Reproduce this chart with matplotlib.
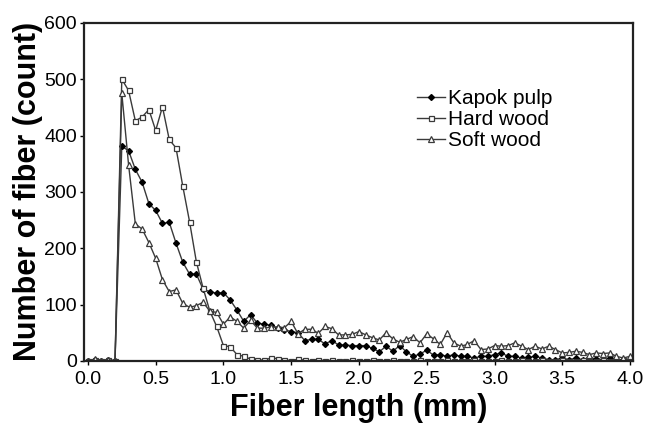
import numpy as np
import matplotlib
matplotlib.use("Agg")
import matplotlib.pyplot as plt

plt.rcParams["font.family"] = ["Liberation Sans", "DejaVu Sans"]

# fiber length bins (mm), 0.05 mm step
length = np.round(np.arange(0, 81) * 0.05, 2)

kapok = [0, 2, 0, 1, 0,
         381, 373, 340, 317, 279, 267, 244, 246, 209, 175,
         154, 154, 127, 123, 120, 121, 108, 90, 70, 82,
         67, 65, 63, 58, 55, 52, 50, 36, 38, 38,
         30, 36, 28, 28, 27, 27, 27, 22, 16, 26,
         17, 27, 16, 8, 12, 19, 10, 11, 8, 11,
         8, 8, 5, 8, 8, 11, 14, 8, 8, 5,
         6, 8, 5, 2, 2, 5, 2, 5, 2, 5,
         4, 2, 5, 2, 2, 2]

hard_wood = [0, 1, 0, 2, 0,
             500, 480, 426, 433, 446, 409, 451, 393, 378, 310,
             247, 176, 129, 88, 61, 27, 25, 11, 8, 3,
             2, 1, 5, 4, 2, 0, 3, 1, 0, 2,
             0, 1, 0, 0, 1, 0, 0, 1, 0, 0,
             1, 0, 0, 0, 1, 0, 0, 0, 1, 0,
             0, 0, 1, 0, 0, 0, 1, 0, 0, 1,
             0, 0, 1, 0, 0, 1, 0, 0, 1, 0,
             0, 1, 0, 0, 1, 0]

soft_wood = [0, 3, 0, 2, 0,
             475, 348, 243, 234, 210, 182, 144, 123, 126, 102,
             95, 98, 104, 88, 86, 65, 78, 70, 58, 72,
             58, 58, 60, 60, 59, 70, 48, 56, 56, 49,
             61, 57, 46, 46, 47, 52, 46, 41, 37, 50,
             39, 33, 38, 43, 32, 48, 39, 29, 50, 32,
             26, 29, 36, 20, 21, 27, 26, 27, 32, 26,
             20, 26, 21, 26, 20, 14, 15, 17, 15, 11,
             14, 13, 14, 8, 5, 8]

x_ticks = [0.0, 0.5, 1.0, 1.5, 2.0, 2.5, 3.0, 3.5, 4.0]
y_ticks = [0, 100, 200, 300, 400, 500, 600]

fig = plt.figure(figsize=(6.45, 4.24), dpi=100)
ax = fig.add_axes([0.130, 0.149, 0.851, 0.797])

line_col = "#3a3a3a"
ax.plot(length, kapok, color=line_col, lw=1.0, marker="D", ms=3.0,
        mfc="black", mec="black", label="Kapok pulp")
ax.plot(length, hard_wood, color=line_col, lw=1.0, marker="s", ms=3.6,
        mfc="white", mec=line_col, mew=0.9, label="Hard wood")
ax.plot(length, soft_wood, color=line_col, lw=1.0, marker="^", ms=4.0,
        mfc="white", mec=line_col, mew=0.9, label="Soft wood")

ax.set_xlim(-0.03, 4.02)
ax.set_ylim(0, 600)
ax.set_xticks(x_ticks)
ax.set_xticklabels([f"{t:.1f}" for t in x_ticks])
ax.set_yticks(y_ticks)
ax.tick_params(direction="out", length=3, width=1, labelsize=14)
ax.tick_params(axis="x", pad=4)
ax.tick_params(axis="y", pad=2)

for s in ax.spines.values():
    s.set_linewidth(1.6)
    s.set_color("#222222")

ax.set_xlabel("Fiber length (mm)", fontsize=22, fontweight="bold", labelpad=4)
ax.set_ylabel("Number of fiber (count)", fontsize=22, fontweight="bold", labelpad=1)

ax.legend(loc="upper left", bbox_to_anchor=(0.585, 0.84), frameon=False,
          fontsize=15, handlelength=1.3, handletextpad=0.15,
          labelspacing=0.08, borderpad=0.1)

fig.savefig("out.png", dpi=100)
